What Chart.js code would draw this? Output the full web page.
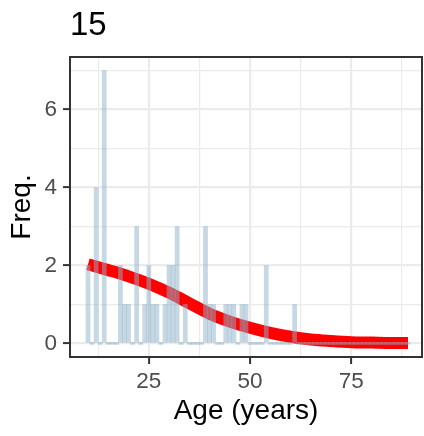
<!DOCTYPE html>
<html>
<head>
<meta charset="utf-8">
<script src="https://cdn.jsdelivr.net/npm/chart.js@4/dist/chart.umd.min.js"></script>
<style>
  html, body { margin: 0; padding: 0; background: #fff; }
</style>
</head>
<body>
<canvas id="ageChart" width="424" height="436"></canvas>
<script>
const panelTitle = "15";

// histogram bins, one per year of age (10 .. 89)
const ageBins = [
  10, 11, 12, 13, 14, 15, 16, 17, 18, 19,
  20, 21, 22, 23, 24, 25, 26, 27, 28, 29,
  30, 31, 32, 33, 34, 35, 36, 37, 38, 39,
  40, 41, 42, 43, 44, 45, 46, 47, 48, 49,
  50, 51, 52, 53, 54, 55, 56, 57, 58, 59,
  60, 61, 62, 63, 64, 65, 66, 67, 68, 69,
  70, 71, 72, 73, 74, 75, 76, 77, 78, 79,
  80, 81, 82, 83, 84, 85, 86, 87, 88, 89
];
const ageFreq = [
  2, 0, 4, 0, 7, 0, 0, 0, 2, 1,
  1, 0, 3, 0, 1, 2, 1, 1, 0, 1,
  2, 2, 3, 0, 1, 0, 0, 0, 0, 3,
  1, 1, 0, 0, 1, 1, 1, 0, 1, 1,
  0, 0, 0, 0, 2, 0, 0, 0, 0, 0,
  0, 1, 0, 0, 0, 0, 0, 0, 0, 0,
  0, 0, 0, 0, 0, 0, 0, 0, 0, 0,
  0, 0, 0, 0, 0, 0, 0, 0, 0, 0
];

// smoothed curve
const curveAge = [10, 15, 20, 25, 30, 35, 40, 45, 50, 55, 60, 65, 70, 75, 80, 85, 89];
const curveFreq = [2.03, 1.88, 1.72, 1.53, 1.30, 1.03, 0.76, 0.56, 0.40, 0.27, 0.17, 0.10, 0.06, 0.03, 0.02, 0.01, 0.01];

const xTicks = [25, 50, 75];
const yTicks = [0, 2, 4, 6];

Chart.defaults.font.family = '"Liberation Sans", Arial, sans-serif';

const gridColor = "#ebebeb";
const inkColor = "#333333";

// title at the panel's left edge and the dark frame around the panel
const panelDecor = {
  id: "panelDecor",
  afterDatasetsDraw(chart) {
    const { ctx, chartArea: a } = chart;
    ctx.save();
    ctx.strokeStyle = inkColor;
    ctx.lineWidth = 2;
    ctx.strokeRect(a.left, a.top, a.right - a.left, a.bottom - a.top);
    ctx.restore();
  },
  afterDraw(chart) {
    const { ctx, chartArea: a } = chart;
    ctx.save();
    ctx.font = '33px "Liberation Sans", Arial, sans-serif';
    ctx.fillStyle = "#000";
    ctx.textBaseline = "alphabetic";
    ctx.textAlign = "left";
    ctx.fillText(panelTitle, a.left, 35);
    ctx.restore();
  }
};

const isMajorX = c => !!c.tick && xTicks.includes(c.tick.value);
const isMajorY = c => !!c.tick && yTicks.includes(c.tick.value);

new Chart(document.getElementById("ageChart"), {
  type: "bar",
  data: {
    datasets: [
      {
        type: "bar",
        data: ageBins.map((a, i) => ({ x: a, y: ageFreq[i] })),
        backgroundColor: "rgba(140,178,202,0.5)",
        borderWidth: 0,
        barPercentage: 1,
        categoryPercentage: 1,
        minBarLength: 2,
        order: 0
      },
      {
        type: "line",
        data: curveAge.map((a, i) => ({ x: a, y: curveFreq[i] })),
        borderColor: "#ff0000",
        borderWidth: 12,
        pointRadius: 0,
        cubicInterpolationMode: "monotone",
        order: 1
      }
    ]
  },
  options: {
    responsive: false,
    animation: false,
    devicePixelRatio: 1,
    layout: { padding: { top: 57, right: 2, bottom: 0, left: 0 } },
    plugins: { legend: { display: false }, tooltip: { enabled: false } },
    scales: {
      x: {
        type: "linear",
        offset: false,
        min: 5.55,
        max: 92.45,
        afterFit: s => { s.height = 79; },
        border: { display: false },
        grid: {
          offset: false,
          color: gridColor,
          lineWidth: c => isMajorX(c) ? 2.2 : 1.2,
          tickColor: c => isMajorX(c) ? inkColor : "rgba(0,0,0,0)",
          tickLength: 7,
          tickWidth: 2
        },
        ticks: {
          stepSize: 12.5,
          includeBounds: false,
          autoSkip: false,
          maxRotation: 0,
          padding: 4,
          color: "#4d4d4d",
          font: { size: 22.5 },
          callback: v => xTicks.includes(v) ? String(v) : ""
        },
        title: {
          display: true,
          text: "Age (years)",
          color: "#000",
          font: { size: 28 },
          padding: { top: 0, bottom: 8 }
        }
      },
      y: {
        min: -0.35,
        max: 7.35,
        afterFit: s => { s.width = 70; },
        border: { display: false },
        grid: {
          color: gridColor,
          lineWidth: c => isMajorY(c) ? 2.2 : 1.2,
          tickColor: c => isMajorY(c) ? inkColor : "rgba(0,0,0,0)",
          tickLength: 7,
          tickWidth: 2
        },
        ticks: {
          stepSize: 1,
          includeBounds: false,
          padding: 6,
          color: "#4d4d4d",
          font: { size: 22.5 },
          callback: v => yTicks.includes(v) ? String(v) : ""
        },
        title: {
          display: true,
          text: "Freq.",
          color: "#000",
          font: { size: 28 },
          padding: { top: 5, bottom: 0 }
        }
      }
    }
  },
  plugins: [panelDecor]
});
</script>
</body>
</html>
